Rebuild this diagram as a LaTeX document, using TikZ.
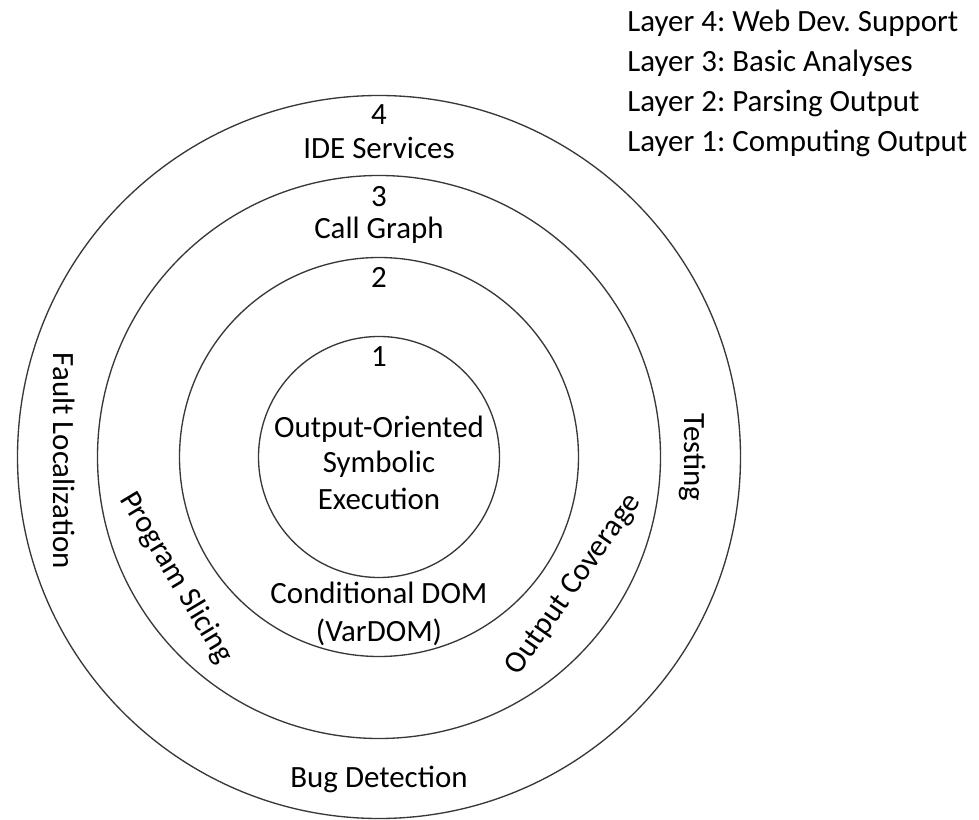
\documentclass[tikz,border=0pt]{standalone}
\usepackage{fontspec}
\setmainfont{Carlito}
\frenchspacing
\begin{document}
\begin{tikzpicture}[x=0.75pt,y=0.75pt,
  ring/.style={draw=black!78, line width=1pt},
  lbl/.style={font=\fontsize{23.2}{27}\selectfont, inner sep=0pt, anchor=base},
  legend/.style={lbl, anchor=base west}]
\useasboundingbox (0,0) rectangle (979,819);
\coordinate (c) at (379,362);

% the four layers, innermost first
\draw[ring] (c) circle[radius=120.5];
\draw[ring] (c) circle[radius=199.5];
\draw[ring] (c) circle[radius=281.5];
\draw[ring] (c) circle[radius=361.5];

% layer 4
\node[lbl] (n4)   at (379,694) {4};
\node[lbl] (ide)  at (379,660) {IDE Services};
\node[lbl] (bug)  at (379,32)  {Bug Detection};
\node[lbl, rotate=-90] (fault) at (53,358)    {Fault Localization};
\node[lbl, rotate=-90] (test)  at (684,361.5) {Testing};

% layer 3
\node[lbl] (n3)   at (379,612) {3};
\node[lbl] (cg)   at (379,580) {Call Graph};
\node[lbl, rotate=-59] (slice) at (169.4,237) {Program Slicing};
\node[lbl, rotate=55]  (cov)   at (580,230)   {Output Coverage};

% layer 2
\node[lbl] (n2)   at (379,531) {2};
\node[lbl] (cdom) at (379,216) {Conditional DOM};
\node[lbl] (vdom) at (379,178) {(VarDOM)};

% layer 1
\node[lbl] (n1)   at (379,452) {1};
\node[lbl] (oo)   at (379,382) {Output-Oriented};
\node[lbl] (sym)  at (379,346) {Symbolic};
\node[lbl] (exe)  at (379,310) {Execution};

% legend
\node[legend] (k4) at (627,787.3) {Layer 4: Web Dev. Support};
\node[legend] (k3) at (627,747.3) {Layer 3: Basic Analyses};
\node[legend] (k2) at (627,707.3) {Layer 2: Parsing Output};
\node[legend] (k1) at (627,667.3) {Layer 1: Computing Output};
\end{tikzpicture}
\end{document}
